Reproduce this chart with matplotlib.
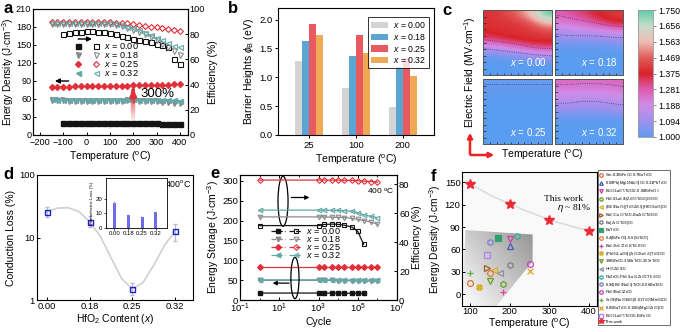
import matplotlib

matplotlib.use("Agg")
import matplotlib.pyplot as plt
import numpy as np
from matplotlib.collections import LineCollection
from matplotlib.colors import LinearSegmentedColormap
from matplotlib.legend_handler import HandlerTuple
from matplotlib.lines import Line2D
from matplotlib.patches import Ellipse, Polygon

plt.rcParams["font.family"] = ["Liberation Sans", "DejaVu Sans"]
plt.rcParams["mathtext.fontset"] = "custom"
plt.rcParams["mathtext.rm"] = "Liberation Sans"
plt.rcParams["mathtext.it"] = "Liberation Sans:italic"
plt.rcParams["mathtext.bf"] = "Liberation Sans:bold"
plt.rcParams["font.size"] = 7
plt.rcParams["axes.linewidth"] = 0.8
plt.rcParams["xtick.major.width"] = 0.7
plt.rcParams["ytick.major.width"] = 0.7
plt.rcParams["xtick.major.size"] = 2.5
plt.rcParams["ytick.major.size"] = 2.5

DEG = r"($^{\mathrm{o}}$C)"
LABELS_X = [r"$x$ = 0.00", r"$x$ = 0.18", r"$x$ = 0.25", r"$x$ = 0.32"]
BLACK, GREY, RED, TEAL = "#141414", "#8a8a8a", "#e0303a", "#62a9a9"

# ---------------- panel a data ----------------
temp_a = [-150, -125, -100, -75, -50, -25, 0, 25, 50, 75, 100, 125,
          150, 175, 200, 225, 250, 275, 300, 325, 350, 375, 400]
temp_a0 = temp_a[2:]
dens_000 = [20.5, 20.5, 20.5, 20.5, 20.5, 20.3, 20.3, 20.2, 20.2, 20.0, 20.0,
            20.0, 19.8, 19.8, 19.8, 19.8, 19.7, 18.5, 18.3, 18.2, 18.0]
dens_018 = [58.5, 57.8, 57.5, 57.2, 57.0, 56.8, 56.5, 56.3, 56.0, 56.0, 56.2, 56.5,
            57.0, 58.0, 57.8, 57.3, 57.0, 56.5, 56.0, 55.5, 54.5, 53.5, 52.5]
dens_025 = [80.5, 80.5, 80.7, 80.8, 81.0, 81.0, 81.2, 81.3, 81.5, 81.7, 82.0, 82.0,
            82.2, 82.4, 82.6, 82.8, 83.0, 83.2, 83.5, 83.8, 84.0, 84.3, 84.6]
dens_032 = [59.5, 59.0, 58.8, 58.5, 58.3, 58.2, 58.0, 58.0, 58.0, 58.0, 58.0, 58.2,
            59.0, 60.0, 59.5, 59.0, 58.8, 58.5, 58.3, 58.0, 57.8, 57.5, 57.2]
eff_000 = [80.5, 81.2, 81.8, 82.0, 82.2, 82.2, 82.0, 81.5, 80.8, 79.8, 78.8,
           77.5, 76.3, 75.3, 74.5, 73.5, 72.5, 71.2, 69.5, 60.5, 56.5]
eff_018 = [88.0] * 11 + [87.3, 86.3, 85.0, 83.5, 81.8, 79.8, 77.5, 75.0, 72.3, 69.5, 66.5, 63.5]
eff_025 = [89.5] * 11 + [89.2, 88.9, 88.5, 88.0, 87.4, 86.8, 86.1, 85.4, 84.6, 83.8, 83.1, 82.5]
eff_032 = [88.6] * 11 + [88.0, 87.2, 86.0, 84.6, 83.0, 81.0, 79.0, 77.0, 75.0, 73.0, 71.0, 69.5]

# ---------------- panel b data ----------------
temp_b = ["25", "100", "200"]
barrier = {
    "0.00": [1.28, 0.81, 0.48],
    "0.18": [1.62, 1.37, 1.18],
    "0.25": [1.92, 1.73, 1.33],
    "0.32": [1.73, 1.42, 1.02],
}
bar_colors_b = ["#d4d4d4", "#5aa5d2", "#e85a60", "#f0aa55"]

# ---------------- panel c data (breakdown field maps, rows top -> bottom) ----------------
field_000 = [[1.40, 1.42, 1.46, 1.52, 1.62, 1.75],
             [1.40, 1.40, 1.41, 1.44, 1.50, 1.58],
             [1.39, 1.40, 1.40, 1.40, 1.42, 1.45],
             [1.33, 1.36, 1.38, 1.40, 1.40, 1.40],
             [1.17, 1.20, 1.24, 1.28, 1.32, 1.33],
             [1.03, 1.04, 1.06, 1.09, 1.12, 1.14],
             [1.00, 1.00, 1.00, 1.00, 1.01, 1.01],
             [1.00, 1.00, 1.00, 1.00, 1.00, 1.00]]
field_018 = [[1.28, 1.30, 1.33, 1.37, 1.40, 1.42],
             [1.22, 1.24, 1.26, 1.30, 1.35, 1.38],
             [1.15, 1.16, 1.17, 1.18, 1.20, 1.22],
             [1.07, 1.08, 1.08, 1.08, 1.09, 1.10],
             [1.02, 1.02, 1.02, 1.02, 1.02, 1.03],
             [1.00, 1.00, 1.00, 1.00, 1.00, 1.00],
             [1.00, 1.00, 1.00, 1.00, 1.00, 1.00],
             [1.00, 1.00, 1.00, 1.00, 1.00, 1.00]]
field_025 = [[1.02, 1.02, 1.02, 1.02, 1.02, 1.02],
             [1.01, 1.01, 1.01, 1.01, 1.01, 1.01],
             [1.00, 1.00, 1.00, 1.00, 1.00, 1.00],
             [1.00, 1.00, 1.00, 1.00, 1.00, 1.00],
             [1.00, 1.00, 1.00, 1.00, 1.00, 1.00],
             [1.00, 1.00, 1.00, 1.00, 1.00, 1.00],
             [1.00, 1.00, 1.00, 1.00, 1.00, 1.00],
             [1.00, 1.00, 1.00, 1.00, 1.00, 1.00]]
field_032 = [[1.25, 1.25, 1.24, 1.24, 1.25, 1.26],
             [1.20, 1.20, 1.20, 1.20, 1.20, 1.21],
             [1.15, 1.15, 1.14, 1.14, 1.15, 1.16],
             [1.10, 1.10, 1.09, 1.09, 1.10, 1.11],
             [1.03, 1.03, 1.03, 1.03, 1.03, 1.04],
             [1.00, 1.00, 1.00, 1.00, 1.00, 1.00],
             [1.00, 1.00, 1.00, 1.00, 1.00, 1.00],
             [1.00, 1.00, 1.00, 1.00, 1.00, 1.00]]
cbar_ticks = [1.000, 1.094, 1.188, 1.281, 1.375, 1.469, 1.563, 1.656, 1.750]

# ---------------- panel d data ----------------
hfo2 = ["0.00", "0.18", "0.25", "0.32"]
cond_loss = [26.0, 18.0, 1.5, 12.7]
cond_err_lo = [4.5, 3.5, 0.3, 4.0]
cond_err_hi = [5.0, 4.0, 0.35, 3.5]
guide_x = [0, 0.25, 0.5, 0.75, 1.0, 1.25, 1.5, 1.75, 2.0, 2.25, 2.5, 2.75, 3.0]
guide_y = [26, 29.5, 30, 26, 18, 10.5, 4.8, 2.2, 1.5, 1.9, 3.6, 7.4, 12.7]
fe_loss = [17.0, 9.0, 7.5, 10.8]
fe_err = [1.5, 0.5, 0.6, 0.6]

# ---------------- panel e data ----------------
cycles = [1, 1e3, 2e3, 5e3, 1e4, 2e4, 5e4, 1e5, 2e5, 5e5, 1e6]
cycles0 = cycles[:9]
stor_000 = [17.5, 17.5, 17.5, 17.3, 17.3, 17.2, 17.0, 16.8, 16.5]
stor_018 = [49.5, 49.5, 49.3, 49.2, 49.0, 48.8, 48.5, 48.3, 48.0, 47.5, 47.0]
stor_025 = [84.0, 84.0, 84.0, 84.0, 84.0, 84.0, 84.0, 84.0, 84.0, 84.0, 84.0]
stor_032 = [51.0, 51.0, 51.0, 51.0, 50.8, 50.6, 50.5, 50.3, 50.0, 49.8, 49.5]
ceff_000 = [51.5, 51.5, 52.3, 52.5, 52.3, 51.8, 50.5, 47.5, 38.5]
ceff_018 = [57.5, 57.5, 57.5, 57.3, 57.2, 57.0, 56.5, 55.8, 55.0, 53.8, 52.5]
ceff_025 = [83.0, 83.0, 83.0, 83.0, 83.0, 82.8, 82.8, 82.5, 82.3, 82.0, 81.5]
ceff_032 = [62.2, 62.2, 62.2, 62.0, 62.0, 61.8, 61.5, 60.5, 59.0, 57.8, 57.0]

# ---------------- panel f data ----------------
ref_names = [
    r"Sm-0.3BiFeO$_3$-0.7BaTiO$_3$",
    r"0.69Pb(Mg$_{1/3}$Nb$_{2/3}$)O$_3$-0.31PbTiO$_3$",
    r"Bi$_{3.25}$La$_{0.75}$Ti$_3$O$_{12}$-0.08BiFeO$_3$",
    r"Pb$_{0.92}$La$_{0.08}$(Zr$_{0.55}$Ti$_{0.45}$)$_{0.98}$O$_3$",
    r"(Bi$_{0.5}$Na$_{0.5}$)(Ti$_{0.5}$Zr$_{0.5}$)(Hf$_{0.5}$Sn$_{0.5}$)O$_3$",
    r"Ba$_{0.7}$Ca$_{0.3}$TiO$_3$-BaZr$_{0.2}$Ti$_{0.8}$O$_3$",
    r"Ba(Zr$_{0.2}$Ti$_{0.8}$)O$_3$",
    r"BaTiO$_3$",
    r"0.4(BiFeO$_3$)-0.6(SrTiO$_3$)",
    r"Ba$_{0.3}$Sr$_{0.7}$Zr$_{0.18}$Ti$_{0.82}$O$_3$",
    r"(Pb$_{0.92}$La$_{0.08}$)(Zr$_{0.52}$Sn$_{0.48}$)Ti$_{0.02}$O$_3$",
    r"30BiFeO$_3$-35BaTiO$_3$-35SrTiO$_3$",
    r"Hf$_{0.5}$Zr$_{0.5}$O$_2$",
    r"PbZrO$_3$-Pb$_{0.9}$La$_{0.1}$Zr$_{0.52}$Ti$_{0.48}$O$_3$",
    r"0.94(Bi$_{0.5}$Na$_{0.5}$)TiO$_3$-0.06BaTiO$_3$",
    r"Pb$_{0.5}$Ba$_{0.5}$ZrO$_3$",
    r"Sr$_{0.99}$(Na$_{0.5}$Bi$_{0.5}$)0.01Ti$_{0.99}$Mn$_{0.01}$O$_3$",
    r"0.85BaTiO$_3$-0.15Bi(Mg$_{2/3}$Zr$_{1/3}$)O$_3$",
    r"Bi$_{3.25}$La$_{0.75}$Ti$_3$O$_{12}$-BiFeO$_3$",
]
ref_temp = [100, 200, 200, 182, 160, 142, 200, 169, 150, 182, 121, 150, 175, 219, 150, 250, 100, 250, 142]
ref_dens = [15.5, 64, 74.5, 13, 33, 35, 39, 76, 29, 3, 9, 18, 29, 78, 70, 41, 28, 31, 52]
ref_colors = ["#e07030", "#4a5ab8", "#d040a0", "#62a020", "#e0b020", "#a06020", "#808080",
              "#30a070", "#e08030", "#e040a0", "#d8b030", "#62a020", "#9090a0", "#30b090",
              "#8080d0", "#c840c0", "#60b040", "#e0a030", "#b080f0"]
ref_markers = ["o", "^", "v", "h", "<", ">", "h", "s", "o", "+", "X", "v", "<",
               "h", "h", "o", "+", "x", "s"]
ref_filled = [False, False, False, False, False, False, False, True, False, True, True,
              False, False, False, False, False, True, True, False]
work_temp = [100, 200, 300, 400]
work_dens = [148, 121, 100, 85]
work_guide_t = [100, 150, 200, 250, 300, 350, 400]
work_guide_d = [148, 133, 121, 110, 100, 92, 85]

W, H = 683, 332
fig = plt.figure(figsize=(W / 100, H / 100), dpi=100)


def px_axes(x0, y0, x1, y1):
    return fig.add_axes([x0 / W, 1 - y1 / H, (x1 - x0) / W, (y1 - y0) / H])


def letter(x, y, s):
    fig.text(x / W, 1 - y / H, s, fontsize=12, fontweight="bold", va="top", ha="left")


# ================= a =================
ax = px_axes(33, 9, 188, 135)
axr = ax.twinx()
ms = 3.6
series_a = [
    (temp_a0, dens_000, eff_000, BLACK, "s"),
    (temp_a, dens_018, eff_018, GREY, "v"),
    (temp_a, dens_025, eff_025, RED, "D"),
    (temp_a, dens_032, eff_032, TEAL, "<"),
]
handles_a = []
for t, d, e, c, m in series_a:
    msz = ms - 0.6 if m == "D" else ms
    hf, = ax.plot(t, d, ls="none", marker=m, ms=msz, color=c, mec=c)
    ho, = axr.plot(t, e, ls="none", marker=m, ms=msz, mfc="none", mec=c, mew=0.8)
    handles_a.append((hf, ho))
ax.set_xlim(-230, 435)
ax.set_ylim(0, 210)
ax.set_yticks(range(0, 211, 30))
ax.set_xticks(range(-200, 401, 100))
axr.set_ylim(0, 100)
axr.set_yticks(range(0, 101, 20))
ax.set_xlabel("Temperature " + DEG, fontsize=7.5, labelpad=1.5)
ax.set_ylabel(r"Energy Density (J$\cdot$cm$^{-3}$)", fontsize=7.2)
ax.yaxis.set_label_coords(-0.11, 0.5)
axr.set_ylabel("Efficiency (%)", fontsize=7.5, labelpad=2)
for a_ in (ax, axr):
    a_.tick_params(labelsize=6.6, pad=1.2, direction="in")
ax.tick_params(axis="x", pad=2.4)
axr.legend(handles_a, LABELS_X, handler_map={tuple: HandlerTuple(ndivide=None, pad=1.4)},
           loc="upper left", bbox_to_anchor=(0.24, 0.78), frameon=False, fontsize=6.6,
           handlelength=2.6, handletextpad=0.6, labelspacing=-0.12, borderpad=0.0)
ax.annotate("", xy=(35, 160), xytext=(-48, 160),
            arrowprops=dict(arrowstyle="-|>", color="black", lw=1.0, mutation_scale=7))
ax.annotate("", xy=(-148, 90), xytext=(-65, 90),
            arrowprops=dict(arrowstyle="-|>", color="black", lw=1.0, mutation_scale=7))
# gradient arrow for the 300 % gain
nseg = 20
ys = np.linspace(22, 72, nseg + 1)
segs = [[(200, ys[i]), (200, ys[i + 1])] for i in range(nseg)]
cols = [(0.88, 0.19, 0.23, 0.05 + 0.9 * i / nseg) for i in range(nseg)]
ax.add_collection(LineCollection(segs, colors=cols, linewidths=3.2, zorder=3))
ax.annotate("", xy=(200, 81), xytext=(200, 70),
            arrowprops=dict(arrowstyle="-|>", color=RED, lw=2.5, mutation_scale=8), zorder=4)
ax.text(232, 69, "300%", fontsize=9.5, va="center", ha="left")

# ================= b =================
axb = px_axes(278, 8, 434, 135)
xb = np.arange(len(temp_b))
bw = 0.15
for i, (k, v) in enumerate(barrier.items()):
    axb.bar(xb + (i - 1.5) * bw, v, width=bw, color=bar_colors_b[i], label=rf"$x$ = {k}")
axb.set_xticks(xb, temp_b)
axb.set_xlim(-0.67, 2.67)
axb.set_ylim(0, 2.2)
axb.set_yticks([0, 0.5, 1.0, 1.5, 2.0], ["0.0", "0.5", "1.0", "1.5", "2.0"])
axb.tick_params(labelsize=6.8, pad=1.5)
axb.set_xlabel("Temperature " + DEG, fontsize=7.5, labelpad=2)
axb.set_ylabel(r"Barrier Heights $\phi_{\mathrm{B}}$ (eV)", fontsize=7.5, labelpad=2)
lb = axb.legend(loc="upper right", fontsize=6.3, frameon=True, fancybox=False, edgecolor="black",
                handlelength=2.0, handletextpad=0.5, labelspacing=0.2, borderpad=0.3,
                bbox_to_anchor=(0.995, 0.96))
lb.get_frame().set_linewidth(0.7)

# ================= c =================
cmap = LinearSegmentedColormap.from_list("bd", [
    (0.0, "#5a9cf0"), (0.125, "#a090ee"), (0.25, "#cf8ce8"), (0.375, "#e05ab0"),
    (0.5, "#d82228"), (0.625, "#e25a5a"), (0.75, "#eebcb4"), (0.875, "#c6dccb"), (1.0, "#5ccca6")])
boxes = [(483, 10, 552, 75), (555, 10, 623, 75), (483, 79, 552, 144), (555, 79, 623, 144)]
fields = [field_000, field_018, field_025, field_032]
contour_lv = [[1.15, 1.3], [1.1, 1.25], [1.015], [1.12, 1.22]]
for box, fld, lab, lv in zip(boxes, fields, LABELS_X, contour_lv):
    axc = px_axes(*box)
    arr = np.array(fld)
    im = axc.imshow(arr, cmap=cmap, vmin=1.0, vmax=1.75, extent=(0, 1, 0, 1),
                    origin="upper", aspect="auto", interpolation="bicubic")
    axc.contour(np.linspace(0, 1, arr.shape[1]), np.linspace(1, 0, arr.shape[0]), arr, levels=lv,
                colors="#3a3a70", linestyles=":", linewidths=0.6)
    axc.set_xlim(0, 1)
    axc.set_ylim(0, 1)
    axc.set_xticks(np.linspace(0, 1, 11)[1:-1], [])
    axc.set_yticks(np.linspace(0, 1, 11)[1:-1], [])
    axc.tick_params(direction="in", length=1.8, width=0.6, color="#333333")
    for sp in axc.spines.values():
        sp.set_color("#555555")
        sp.set_linewidth(0.7)
    axc.text(0.93, 0.1, lab, color="white", fontsize=7, ha="right", va="bottom",
             transform=axc.transAxes)
cax = px_axes(638, 10, 653, 137)
cb = fig.colorbar(im, cax=cax, ticks=cbar_ticks, format="%.3f")
cb.outline.set_edgecolor("#999999")
cb.outline.set_linewidth(0.6)
cb.ax.tick_params(labelsize=6.3, length=2, width=0.5, pad=1.5, color="#666666")
fig.text(470 / W, 1 - 72 / H, r"Electric Field (MV$\cdot$cm$^{-1}$)", rotation=90,
         fontsize=7.5, ha="center", va="center")
fig.text(542 / W, 1 - 155 / H, "Temperature " + DEG, fontsize=7.5, ha="center", va="center")
fig.patches.append(matplotlib.patches.FancyArrowPatch(
    (470 / W, 1 - 157 / H), (470 / W, 1 - 130 / H), transform=fig.transFigure,
    arrowstyle="-|>", mutation_scale=7, color="#ee2222", lw=1.8))
fig.patches.append(matplotlib.patches.FancyArrowPatch(
    (468 / W, 1 - 155 / H), (497 / W, 1 - 155 / H), transform=fig.transFigure,
    arrowstyle="-|>", mutation_scale=7, color="#ee2222", lw=1.8))

# ================= d =================
axd = px_axes(37, 175, 193, 300)
xd = np.arange(len(hfo2))
axd.plot(guide_x, guide_y, color="#d0d0d0", lw=1.2, zorder=1)
axd.errorbar(xd, cond_loss, yerr=[cond_err_lo, cond_err_hi], fmt="s", ms=3.6, mfc="none",
             mec="#2020c0", mew=1.0, ecolor="#b8b8d8", elinewidth=0.8, capsize=1.5, zorder=3)
axd.set_yscale("log")
axd.set_ylim(1, 100)
axd.set_yticks([1, 10, 100], ["1", "10", "100"])
axd.yaxis.set_minor_locator(matplotlib.ticker.NullLocator())
axd.set_xlim(-0.23, 3.42)
axd.set_xticks(xd, hfo2)
axd.tick_params(labelsize=6.8, pad=1.5, direction="in")
axd.set_xlabel(r"HfO$_2$ Content ($x$)", fontsize=7.5, labelpad=1)
axd.set_ylabel("Conduction Loss (%)", fontsize=7.5, labelpad=2)
axi = px_axes(106, 178, 167, 228)
axi.bar(xd, fe_loss, width=0.22, color="#6b6bec", yerr=fe_err,
        error_kw=dict(ecolor="#9090c0", elinewidth=0.6, capsize=0))
axi.set_xlim(-0.6, 3.8)
axi.set_ylim(0, 34)
axi.set_yticks([0, 10, 20])
axi.set_xticks(xd, hfo2)
axi.tick_params(labelsize=4.3, length=1.5, width=0.5, pad=1)
axi.set_ylabel("Ferroelectric Loss (%)", fontsize=3.2, labelpad=1)
for sp in axi.spines.values():
    sp.set_linewidth(0.6)
axd.text(0.99, 0.93, r"400$^{\mathrm{o}}$C", transform=axd.transAxes, fontsize=6.3,
         ha="right", va="center")

# ================= e =================
axe = px_axes(240, 175, 397, 300)
axe2 = axe.twinx()
series_e = [
    (cycles0, stor_000, ceff_000, BLACK, "s"),
    (cycles, stor_018, ceff_018, GREY, "v"),
    (cycles, stor_025, ceff_025, RED, "D"),
    (cycles, stor_032, ceff_032, TEAL, "<"),
]
handles_e = []
for cyc, s, e, c, m in series_e:
    msz = 2.9 if m == "D" else 3.3
    axe.plot(cyc, s, color=c, lw=0.9, marker=m, ms=msz, mfc=c, mec=c)
    axe2.plot(cyc, e, color=c, lw=0.9, marker=m, ms=msz, mfc="none", mec=c, mew=0.8)
    handles_e.append((Line2D([], [], color=c, ls="--", lw=0.9, marker=m, ms=msz, mfc=c, mec=c),
                      Line2D([], [], color=c, ls="--", lw=0.9, marker=m, ms=msz, mfc="none",
                             mec=c, mew=0.8)))
axe.set_xscale("log")
axe.set_xlim(0.1, 1e7)
axe.set_xticks([0.1, 10, 1e3, 1e5, 1e7],
               [r"10$^{-1}$", r"10$^{1}$", r"10$^{3}$", r"10$^{5}$", r"10$^{7}$"])
axe.xaxis.set_minor_locator(matplotlib.ticker.LogLocator(base=10, numticks=20))
axe.xaxis.set_minor_formatter(matplotlib.ticker.NullFormatter())
axe.set_ylim(0, 315)
axe.set_yticks(range(0, 301, 50))
axe2.set_ylim(0, 86.5)
axe2.set_yticks(range(0, 81, 20))
axe.tick_params(axis="x", which="both", direction="in", top=True)
axe.tick_params(axis="y", direction="in")
axe2.tick_params(axis="y", direction="in")
for a_ in (axe, axe2):
    a_.tick_params(labelsize=6.8, pad=1.5)
axe.tick_params(axis="x", which="minor", length=1.5)
axe.set_xlabel("Cycle", fontsize=7.5, labelpad=1)
axe.set_ylabel(r"Energy Storage (J$\cdot$cm$^{-3}$)", fontsize=7.5, labelpad=1)
axe2.set_ylabel("Efficiency (%)", fontsize=7.5, labelpad=2)
axe2.legend(handles_e, LABELS_X, handler_map={tuple: HandlerTuple(ndivide=None, pad=0.4)},
            loc="upper left", bbox_to_anchor=(0.17, 0.63), frameon=False, fontsize=6.6,
            handlelength=3.4, handletextpad=0.4, labelspacing=-0.2, borderpad=0.0)
for cx, cy, w, h in [(0.274, 0.79, 0.064, 0.40), (0.35, 0.176, 0.052, 0.33)]:
    axe2.add_patch(Ellipse((cx, cy), w, h, transform=axe2.transAxes, fill=False,
                           ec="black", lw=0.9))
axe2.annotate("", xy=(0.46, 0.82), xytext=(0.31, 0.82), xycoords="axes fraction",
              arrowprops=dict(arrowstyle="-|>", color="black", lw=0.9, mutation_scale=6))
axe2.annotate("", xy=(0.19, 0.135), xytext=(0.33, 0.135), xycoords="axes fraction",
              arrowprops=dict(arrowstyle="-|>", color="black", lw=0.9, mutation_scale=6))
axe2.text(0.985, 0.87, r"400 $^{\mathrm{o}}$C", transform=axe2.transAxes, fontsize=6,
          ha="right", va="center")

# ================= f =================
axf = px_axes(462, 172, 597, 306)
axf.set_facecolor("#f9f9f9")
axf.set_xlim(79, 421)
axf.set_ylim(-16, 164)
poly = Polygon([(88, 86), (258, 80), (258, 44), (166, -16), (80, -16)], closed=True,
               transform=axf.transData, fc="none", ec="none")
axf.add_patch(poly)
gx, gy = np.meshgrid(np.linspace(0, 1, 60), np.linspace(0, 1, 60))
shade = 1 - 0.42 * (0.55 * gx + 0.45 * gy)
grad = axf.imshow(shade, cmap="gray", vmin=0, vmax=1, extent=(80, 258, -16, 86),
                  origin="lower", aspect="auto", zorder=1, interpolation="bilinear")
grad.set_clip_path(poly)
axf.plot(work_guide_t, work_guide_d, color="#dcdcdc", lw=1.2, zorder=2)
handles_f = []
for n, t, d, c, m, fl in zip(ref_names, ref_temp, ref_dens, ref_colors, ref_markers, ref_filled):
    h, = axf.plot([t], [d], ls="none", marker=m, ms=4.2, mec=c, mfc=c if fl else "none",
                  mew=0.9, zorder=3)
    handles_f.append(h)
hw, = axf.plot(work_temp, work_dens, ls="none", marker="*", ms=7, color="#ec2a36", zorder=4)
axf.text(288, 128, "This work", fontsize=6.8, ha="left", va="center",
         family=["Liberation Serif", "DejaVu Serif"])
axf.text(320, 116, r"$\eta$ ~ 81%", fontsize=6.8, ha="left", va="center",
         family=["Liberation Serif", "DejaVu Serif"])
axf.set_xticks([100, 200, 300, 400])
axf.set_yticks(range(0, 151, 30))
axf.tick_params(labelsize=6.8, pad=1.0, direction="in")
axf.set_xlabel("Temperature " + DEG, fontsize=7.5, labelpad=0)
axf.set_ylabel(r"Energy Density (J$\cdot$cm$^{-3}$)", fontsize=7.3, labelpad=1)
lf = axf.legend(handles_f + [hw], ref_names + ["This work"], loc="upper left",
                bbox_to_anchor=(1.005, 1.012), fontsize=2.9, frameon=True, fancybox=False,
                edgecolor="black", labelspacing=0.0, handletextpad=0.4, borderpad=0.35,
                handlelength=1.0, markerscale=0.62, borderaxespad=0.0)
lf.get_frame().set_linewidth(0.5)

letter(3, 1, "a")
letter(228, 1, "b")
letter(442, 3, "c")
letter(3, 167, "d")
letter(210, 166, "e")
letter(431, 169, "f")

fig.savefig("out.png", dpi=100)
